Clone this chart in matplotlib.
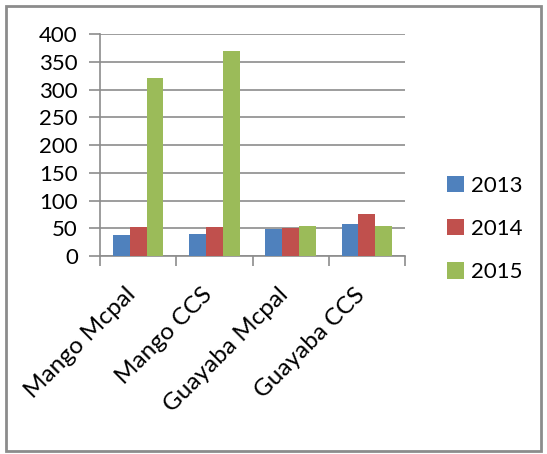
import numpy as np
import matplotlib
matplotlib.use("Agg")
import matplotlib.pyplot as plt
from matplotlib.patches import Rectangle
from matplotlib.transforms import ScaledTranslation

categories = ["Mango Mcpal", "Mango CCS", "Guayaba Mcpal", "Guayaba CCS"]
years = ["2013", "2014", "2015"]
v2013 = [38, 39, 48, 58]
v2014 = [52, 52, 51, 76]
v2015 = [322, 370, 54, 54]
colors = ["#4F81BD", "#C0504D", "#9BBB59"]

plt.rcParams["font.family"] = ["Lato", "DejaVu Sans"]

fig = plt.figure(figsize=(5.47, 4.54), dpi=100)
ax = fig.add_axes([100 / 547, 1 - 256 / 454, 305 / 547, (256 - 34.3) / 454])

x = np.arange(len(categories))
w = 0.22
for i, (vals, c, lab) in enumerate(zip((v2013, v2014, v2015), colors, years)):
    ax.bar(x + (i - 1) * w, vals, w, color=c, label=lab, zorder=3)

ax.set_xlim(-0.5, len(categories) - 0.5)
ax.set_ylim(0, 400)
ax.set_yticks(np.arange(0, 401, 50))
ax.yaxis.grid(True, color="#8C8C8C", lw=1.2, zorder=0)
for s in ("top", "right"):
    ax.spines[s].set_visible(False)
for s in ("left", "bottom"):
    ax.spines[s].set_color("#8C8C8C")
    ax.spines[s].set_linewidth(1.2)
ax.tick_params(axis="y", length=8, width=1.2, color="#8C8C8C", labelsize=16, pad=8)
ax.set_xticks(np.arange(-0.5, len(categories), 1.0))
ax.set_xticklabels([])
ax.tick_params(axis="x", which="major", length=7, width=1.2, color="#8C8C8C")
ax.set_xticks(x, minor=True)
ax.set_xticklabels(categories, minor=True, rotation=45, ha="right",
                   rotation_mode="anchor", fontsize=17.5)
ax.tick_params(axis="x", which="minor", length=0, pad=20)
shift = ScaledTranslation(-0.13, 0, fig.dpi_scale_trans)
for lbl in ax.get_xticklabels(minor=True):
    lbl.set_transform(lbl.get_transform() + shift)

fig.legend(loc="center left", bbox_to_anchor=(427 / 547, 1 - 229 / 454),
           frameon=False, fontsize=16, handlelength=0.75, handleheight=0.75,
           handletextpad=0.35, labelspacing=1.05)

fig.patches.append(Rectangle((6 / 547, 3 / 454), 535 / 547, 445 / 454,
                             transform=fig.transFigure, fill=False,
                             edgecolor="#8C8C8C", lw=2))

fig.savefig("out.png", dpi=100)
